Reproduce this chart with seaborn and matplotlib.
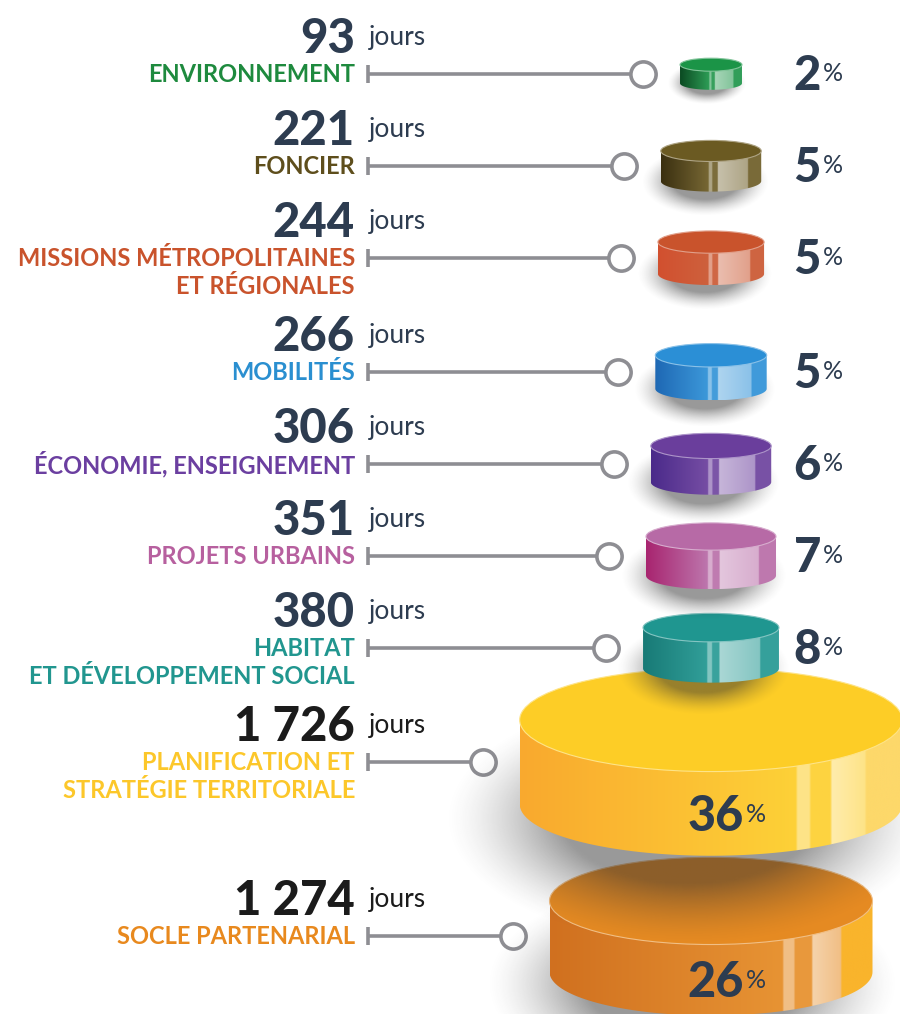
import numpy as np
import pandas as pd
import matplotlib
matplotlib.use('Agg')
import matplotlib.pyplot as plt
from matplotlib.patches import Polygon, Ellipse
from matplotlib.colors import to_rgb
import seaborn as sns

# --- données ---
CATEGORIES = [
    'ENVIRONNEMENT',
    'FONCIER',
    'MISSIONS MÉTROPOLITAINES\nET RÉGIONALES',
    'MOBILITÉS',
    'ÉCONOMIE, ENSEIGNEMENT',
    'PROJETS URBAINS',
    'HABITAT\nET DÉVELOPPEMENT SOCIAL',
    'PLANIFICATION ET\nSTRATÉGIE TERRITORIALE',
    'SOCLE PARTENARIAL',
]
JOURS = [93, 221, 244, 266, 306, 351, 380, 1726, 1274]
POURCENTAGES = [2, 5, 5, 5, 6, 7, 8, 36, 26]

# --- couleurs ---
LABEL_COLORS = ['#1e8a3e', '#5e4e1c', '#c9532c', '#2a8fd0', '#6b3fa0',
                '#b7609f', '#21968f', '#fcc72a', '#e8891e']
TOP_COLORS = ['#1b9447', '#6b5a22', '#c9532c', '#2b8fd6', '#6a3e9c',
              '#b76aa6', '#1f9690', '#fdcd26', '#e58a22']
SIDE_DARK = ['#0b4a22', '#3a2f10', '#d2502f', '#1e68b4', '#4a2a8a',
             '#a8246f', '#187a76', '#f9a92e', '#d0701f']
SIDE_END = [None, None, None, None, None, None, None, '#fdd86a', '#f9b42c']
NUM_COLORS = ['#2d3c50'] * 7 + ['#1b1b1b'] * 2
PCT_COLOR = '#2d3c50'
GREY = '#8e8e93'

# --- mise en page (pixels) ---
FIG_W, FIG_H = 900, 1014
DISK_CX = 711
LABEL_X = 355
TICK_X = 368
FIRST_ROW = 74
PCT_X = 821
BIG_W = 250      # au-delà, le pourcentage est écrit sur le disque
BIG_BOOST = 1.21  # les deux gros postes sont mis en avant


def mix(c1, c2, t):
    a, b = np.array(to_rgb(c1)), np.array(to_rgb(c2))
    return (1 - t) * a + t * b


def side_gradient(dark, base, end, big, n=500):
    s = 0.72 if big else 0.47
    w = 'white'
    end = mix(base, w, 0.1) if end is None else np.array(to_rgb(end))
    stops = [
        (0.0, to_rgb(dark)),
        (s, mix(base, w, 0.08)),
        (s + 0.005, mix(base, w, 0.45)),
        (s + 0.035, mix(base, w, 0.45)),
        (s + 0.04, mix(base, w, 0.12)),
        (s + 0.09, mix(base, w, 0.12)),
        (s + 0.095, mix(base, w, 0.62)),
        (0.86 if not big else 0.9, mix(base, w, 0.45)),
        (0.865 if not big else 0.905, end),
        (1.0, end),
    ]
    xs = np.linspace(0, 1, n)
    pos = [p for p, _ in stops]
    rgb = np.stack([np.interp(xs, pos, [c[k] for _, c in stops]) for k in range(3)], axis=1)
    return rgb[None, :, :]


def draw_shadow(ax, cx, cy, a, b, z):
    gx = np.linspace(cx - 2 * a, cx + 2 * a, 200)
    gy = np.linspace(cy - 2 * b, cy + 2 * b, 120)
    X, Y = np.meshgrid(gx, gy)
    r = np.sqrt(((X - cx) / a) ** 2 + ((Y - cy) / b) ** 2)
    alpha = 0.5 * np.clip((1.35 - r) / 0.65, 0, 1) ** 1.5
    img = np.zeros(X.shape + (4,))
    img[..., :3] = 0.2
    img[..., 3] = alpha
    ax.imshow(img, extent=(gx[0], gx[-1], gy[-1], gy[0]), origin='upper',
              aspect='auto', zorder=z, interpolation='bilinear')


def draw_disk(ax, cx, yc, w, eh, d, top, dark, end, z):
    a, b = w / 2, eh / 2
    y_t = yc - d / 2
    big = w > BIG_W
    draw_shadow(ax, cx - 0.06 * w, yc + 0.3 * (eh + d), a * 0.95, (eh + d) * 0.5, z)

    th = np.linspace(np.pi, 0, 80)
    bottom = np.column_stack([cx + a * np.cos(th), y_t + d + b * np.sin(th)])
    verts = np.vstack([[cx - a, y_t], bottom, [cx + a, y_t]])
    side = Polygon(verts, closed=True, facecolor='none', edgecolor='none', zorder=z + 1)
    ax.add_patch(side)
    im = ax.imshow(side_gradient(dark, top, end, big),
                   extent=(cx - a, cx + a, y_t + d + b, y_t - 1),
                   aspect='auto', zorder=z + 1, interpolation='bilinear')
    im.set_clip_path(side)
    ax.add_patch(Ellipse((cx, y_t), w, eh, facecolor=top, edgecolor=mix(top, 'white', 0.45),
                         lw=0.8, zorder=z + 2))
    return y_t


def main():
    n = len(JOURS)
    df = pd.DataFrame({'categorie': CATEGORIES, 'jours': JOURS, 'pct': POURCENTAGES})
    df['lignes'] = df['categorie'].str.count('\n') + 1
    df['largeur'] = 4.94 * df['jours'] ** 0.558
    big = df['largeur'] > BIG_W
    df.loc[big, 'largeur'] *= BIG_BOOST
    df['ellipse'] = np.where(big, 0.27, 0.21) * df['largeur']
    df['epaisseur'] = np.where(big, 0.22, 0.3) * df['largeur']

    # position verticale de chaque ligne selon la place prise par la précédente
    steps = 92 + 22 * (df['lignes'] - 1) + 0.62 * np.maximum(0, df['ellipse'] + df['epaisseur'] - 90)
    df['row_y'] = FIRST_ROW + np.concatenate([[0], np.cumsum(steps.values[:-1])])
    df['circle_x'] = DISK_CX - df['largeur'] / 2 - 37

    sns.set_theme(style='white')
    plt.rcParams['font.family'] = ['Lato', 'DejaVu Sans']

    fig = plt.figure(figsize=(FIG_W / 100, FIG_H / 100), dpi=100)
    ax = fig.add_axes([0, 0, 1, 1])

    # connecteurs
    for _, r in df.iterrows():
        ax.plot([TICK_X, r['circle_x']], [r['row_y'], r['row_y']], color=GREY, lw=2.6, zorder=2,
                solid_capstyle='butt')
        ax.plot([TICK_X, TICK_X], [r['row_y'] - 9, r['row_y'] + 9], color=GREY, lw=2.6, zorder=2,
                solid_capstyle='butt')
    sns.scatterplot(data=df, x='circle_x', y='row_y', s=330, color='white', edgecolor=GREY,
                    linewidth=2.6, zorder=3, ax=ax, legend=False)

    # disques, du bas vers le haut pour que les ombres recouvrent les disques inférieurs
    for i in reversed(range(n)):
        r = df.iloc[i]
        z = 10 + (n - i) * 5
        y_t = draw_disk(ax, DISK_CX, r['row_y'], r['largeur'], r['ellipse'], r['epaisseur'],
                        TOP_COLORS[i], SIDE_DARK[i], SIDE_END[i], z)
        if r['largeur'] > BIG_W:
            px = DISK_CX + 33
            py = y_t + r['ellipse'] / 2 + 0.5 * r['epaisseur']
            ax.text(px, py + 17, f"{r['pct']}", ha='right', va='baseline', fontsize=35,
                    fontweight='black', color=PCT_COLOR, zorder=200)
            ax.text(px + 2, py + 8, '%', ha='left', va='baseline', fontsize=18,
                    color=PCT_COLOR, zorder=200)
        else:
            ax.text(PCT_X, r['row_y'] + 16, f"{r['pct']}", ha='right', va='baseline', fontsize=34,
                    fontweight='black', color=PCT_COLOR, zorder=200)
            ax.text(PCT_X + 2, r['row_y'] + 7, '%', ha='left', va='baseline', fontsize=18,
                    color=PCT_COLOR, zorder=200)

    # textes de gauche
    for i, r in df.iterrows():
        y = r['row_y']
        nombre = f"{r['jours']:,}".replace(',', ' ')
        ax.text(LABEL_X, y - 21, nombre, ha='right', va='baseline', fontsize=34,
                fontweight='black', color=NUM_COLORS[i])
        ax.text(LABEL_X + 14, y - 29, 'jours', ha='left', va='baseline', fontsize=19,
                color=NUM_COLORS[i])
        for k, ligne in enumerate(r['categorie'].split('\n')):
            ax.text(LABEL_X, y + 28 * k, ligne, ha='right', va='center', fontsize=17,
                    fontweight='bold', color=LABEL_COLORS[i])

    ax.set_xlim(0, FIG_W)
    ax.set_ylim(FIG_H, 0)
    ax.axis('off')
    fig.savefig('out.png', dpi=100, facecolor='white')


if __name__ == '__main__':
    main()
